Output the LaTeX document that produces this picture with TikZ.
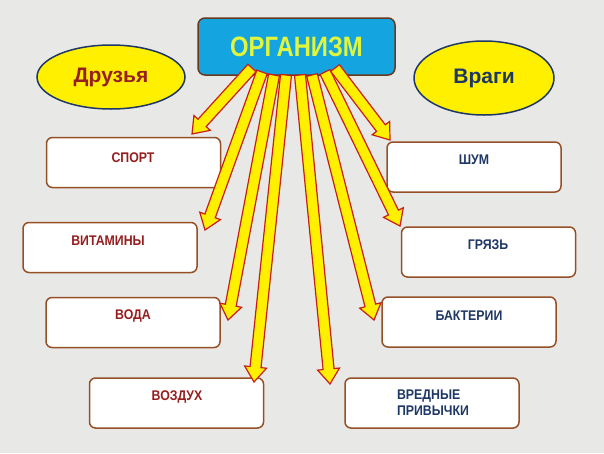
\documentclass[tikz,border=0pt]{standalone}
\usepackage{fontspec}
\setmainfont{Liberation Sans}
\usetikzlibrary{calc,shapes.geometric}
\definecolor{bg}{RGB}{232,232,230}
\definecolor{boxb}{RGB}{150,80,40}
\definecolor{blue1}{RGB}{20,165,225}
\definecolor{ygreen}{RGB}{225,245,60}
\definecolor{lred}{RGB}{150,30,30}
\definecolor{rblue}{RGB}{30,55,100}
\definecolor{arrred}{RGB}{200,30,20}
\definecolor{arryel}{RGB}{255,240,0}
\newcommand\fatarrow[2]{%
  \coordinate (fa) at (#1); \coordinate (fb) at (#2);
  \coordinate (fh) at ($(fb)!15pt!(fa)$);
  \fill[arryel,draw=arrred,line width=1.2pt,line join=miter]
    ($(fa)!5.5pt!90:(fb)$) -- ($(fh)!5.5pt!90:(fb)$) -- ($(fh)!11pt!90:(fb)$) -- (fb)
    -- ($(fh)!11pt!-90:(fb)$) -- ($(fh)!5.5pt!-90:(fb)$) -- ($(fa)!5.5pt!-90:(fb)$) -- cycle;}
\tikzset{item/.style={draw=boxb,line width=1.5pt,fill=white,rounded corners=6pt,minimum width=174pt,minimum height=50pt},
 ltxt/.style={font=\bfseries\fontsize{14}{16}\selectfont,text=lred,xscale=0.88},
 rtxt/.style={font=\bfseries\fontsize{14}{16}\selectfont,text=rblue,align=left,xscale=0.88}}
\begin{document}
\begin{tikzpicture}[x=1pt,y=-1pt]
\useasboundingbox (0,0) rectangle (604,453);
\fill[bg] (0,0) rectangle (604,453);
\node[item] (sport) at (133.5,162.5) {}; \node[ltxt] (tsport) at (133,158) {СПОРТ};
\node[item] (vit) at (110,247.5) {}; \node[ltxt] (tvit) at (108,241) {ВИТАМИНЫ};
\node[item] (voda) at (133,322.5) {}; \node[ltxt] (tvoda) at (133,316) {ВОДА};
\node[item] (vozd) at (176.5,403) {}; \node[ltxt] (tvozd) at (177,397) {ВОЗДУХ};
\node[item] (shum) at (474,167) {}; \node[rtxt] (tshum) at (474,160) {ШУМ};
\node[item] (gr) at (488.5,252) {}; \node[rtxt] (tgr) at (488,245) {ГРЯЗЬ};
\node[item] (bak) at (469,322) {}; \node[rtxt] (tbak) at (469,316) {БАКТЕРИИ};
\node[item] (vr) at (432,403) {}; \node[rtxt] (tvr) at (433,403) {ВРЕДНЫЕ\\ПРИВЫЧКИ};
\node[draw=rblue,line width=1.5pt,fill=arryel,ellipse,minimum width=148pt,minimum height=64pt,font=\bfseries\fontsize{21}{23}\selectfont,text=lred] (dr) at (111,77) {Друзья};
\node[draw=rblue,line width=1.5pt,fill=arryel,ellipse,minimum width=140pt,minimum height=74pt,font=\bfseries\fontsize{21}{23}\selectfont,text=rblue] (vrag) at (484,78) {Враги};
\node[draw=boxb!70!black,line width=1.5pt,fill=blue1,rounded corners=7pt,minimum width=197pt,minimum height=57pt] (org) at (296.5,46.5) {};
\node[font=\bfseries\fontsize{28}{30}\selectfont,text=ygreen,xscale=0.85] (torg) at (296.5,46.5) {ОРГАНИЗМ};
\fatarrow{252,68}{192,134}
\fatarrow{262,72}{205,230}
\fatarrow{274,75}{228,320}
\fatarrow{286,75}{254,382}
\fatarrow{300,75}{330,384}
\fatarrow{312,75}{374,320}
\fatarrow{325,72}{400,226}
\fatarrow{335,68}{390,140}
\end{tikzpicture}
\end{document}
